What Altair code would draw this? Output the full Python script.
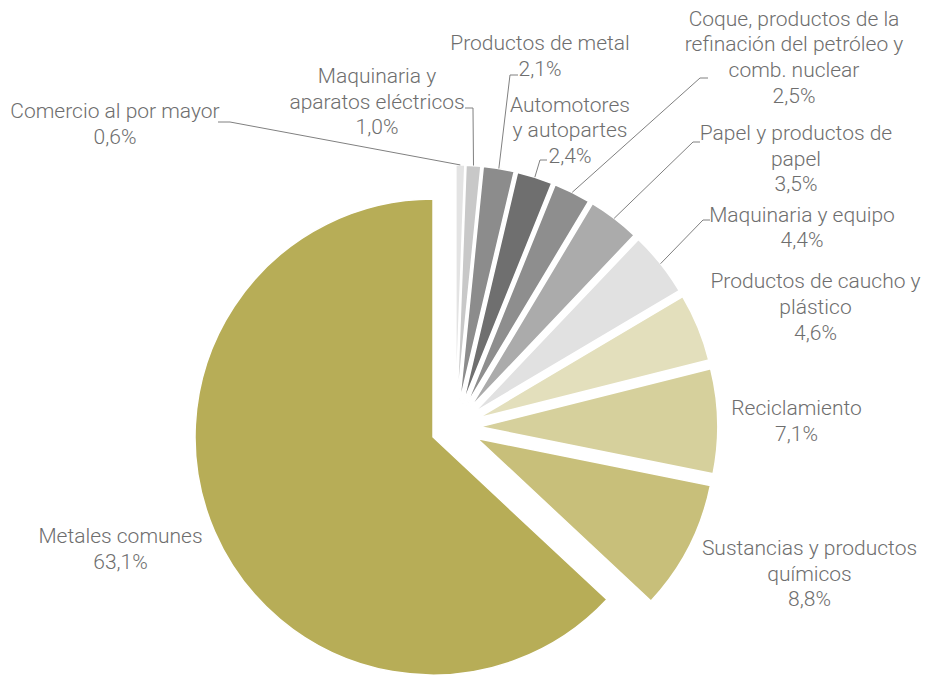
import altair as alt
import pandas as pd

# ---- data (clockwise from 12 o'clock) ----
categories = [
    "Comercio al por mayor",
    "Maquinaria y\naparatos eléctricos",
    "Productos de metal",
    "Automotores\ny autopartes",
    "Coque, productos de la\nrefinación del petróleo y\ncomb. nuclear",
    "Papel y productos de\npapel",
    "Maquinaria y equipo",
    "Productos de caucho y\nplástico",
    "Reciclamiento",
    "Sustancias y productos\nquímicos",
    "Metales comunes",
]
values = [0.6, 1.0, 2.1, 2.4, 2.5, 3.5, 4.4, 4.6, 7.1, 8.8, 63.1]

# ---- styles ----
colors = ["#e3e3e3", "#c8c8c8", "#8c8c8c", "#6f6f6f", "#8e8e8e", "#ababab",
          "#e1e1e1", "#e3dfbc", "#d6d09c", "#c8bf7a", "#b7ad57"]

# ---- layout (page pixels; page margin 8px) ----
M = 8
CX, CY = 455.4 - M, 427.3 - M     # pie centre
R = 238                           # pie radius
D = 24.4                          # explode distance

label_x = [115, 377, 540, 570, 794, 796, 802, 815.5, 796.5, 809.5, 120.5]
label_y = [118.3, 83, 50, 111.7, 25.5, 140, 221.7, 288.3, 415, 555, 543]
elbow_x = [230, 473, 510, 540, 700, 693, 703, None, None, None, None]
elbow_y = [122, 108, 75, 160, 78, 142, 220, None, None, None, None]
stub_x = [218, 465, 518, 547, 708, 700, 710, None, None, None, None]
stub_y = [122, 108, 75, 160, 78, 142, 220, None, None, None, None]


def shift(v):
    return [None if a is None else a - M for a in v]


df = pd.DataFrame({
    "order": list(range(len(categories))),
    "name": categories,
    "value": values,
    "lx": shift(label_x), "ly": shift(label_y),
    "ex": shift(elbow_x), "ey": shift(elbow_y),
    "sx": shift(stub_x), "sy": shift(stub_y),
})

base = alt.Chart(df).transform_joinaggregate(
    total="sum(value)"
).transform_window(
    cum="sum(value)", sort=[alt.SortField("order")], frame=[None, 0]
).transform_calculate(
    a0="(datum.cum - datum.value) / datum.total * 2 * PI",
    a1="datum.cum / datum.total * 2 * PI",
).transform_calculate(
    am="(datum.a0 + datum.a1) / 2"
).transform_calculate(
    px=f"{CX} + {D} * sin(datum.am)",
    py=f"{CY} - {D} * cos(datum.am)",
    qx=f"{CX} + {D + R} * sin(datum.am)",
    qy=f"{CY} - {D + R} * cos(datum.am)",
    txt="datum.name + '\\n' + replace(format(datum.value, '.1f'), '.', ',') + '%'",
)

pie = base.mark_arc(radius=R, stroke="white", strokeWidth=1.5).encode(
    x=alt.X("px:Q", scale=None, axis=None),
    y=alt.Y("py:Q", scale=None, axis=None),
    theta=alt.Theta("a0:Q", scale=None, stack=None),
    theta2=alt.Theta2("a1:Q"),
    color=alt.Color("name:N", scale=alt.Scale(domain=categories, range=colors), legend=None),
    order=alt.Order("order:Q"),
)

leaders = base.transform_filter("isValid(datum.ex)")

lead1 = leaders.mark_rule(color="#808080", strokeWidth=1).encode(
    x=alt.X("qx:Q", scale=None, axis=None),
    y=alt.Y("qy:Q", scale=None, axis=None),
    x2="ex:Q", y2="ey:Q",
)
lead2 = leaders.mark_rule(color="#808080", strokeWidth=1).encode(
    x=alt.X("ex:Q", scale=None, axis=None),
    y=alt.Y("ey:Q", scale=None, axis=None),
    x2="sx:Q", y2="sy:Q",
)

labels = base.mark_text(
    align="center", baseline="alphabetic", lineBreak="\n", lineHeight=25.7,
    font="Roboto", fontSize=21, fontWeight=300, color="#6e6e6e",
).encode(
    x=alt.X("lx:Q", scale=None, axis=None),
    y=alt.Y("ly:Q", scale=None, axis=None),
    text="txt:N",
)

chart = alt.layer(pie, lead1, lead2, labels).properties(
    width=919, height=668, padding=0, autosize="none",
    background="white",
).configure_view(stroke=None)

chart.save("out.html", embed_options={"renderer": "svg", "actions": False})
